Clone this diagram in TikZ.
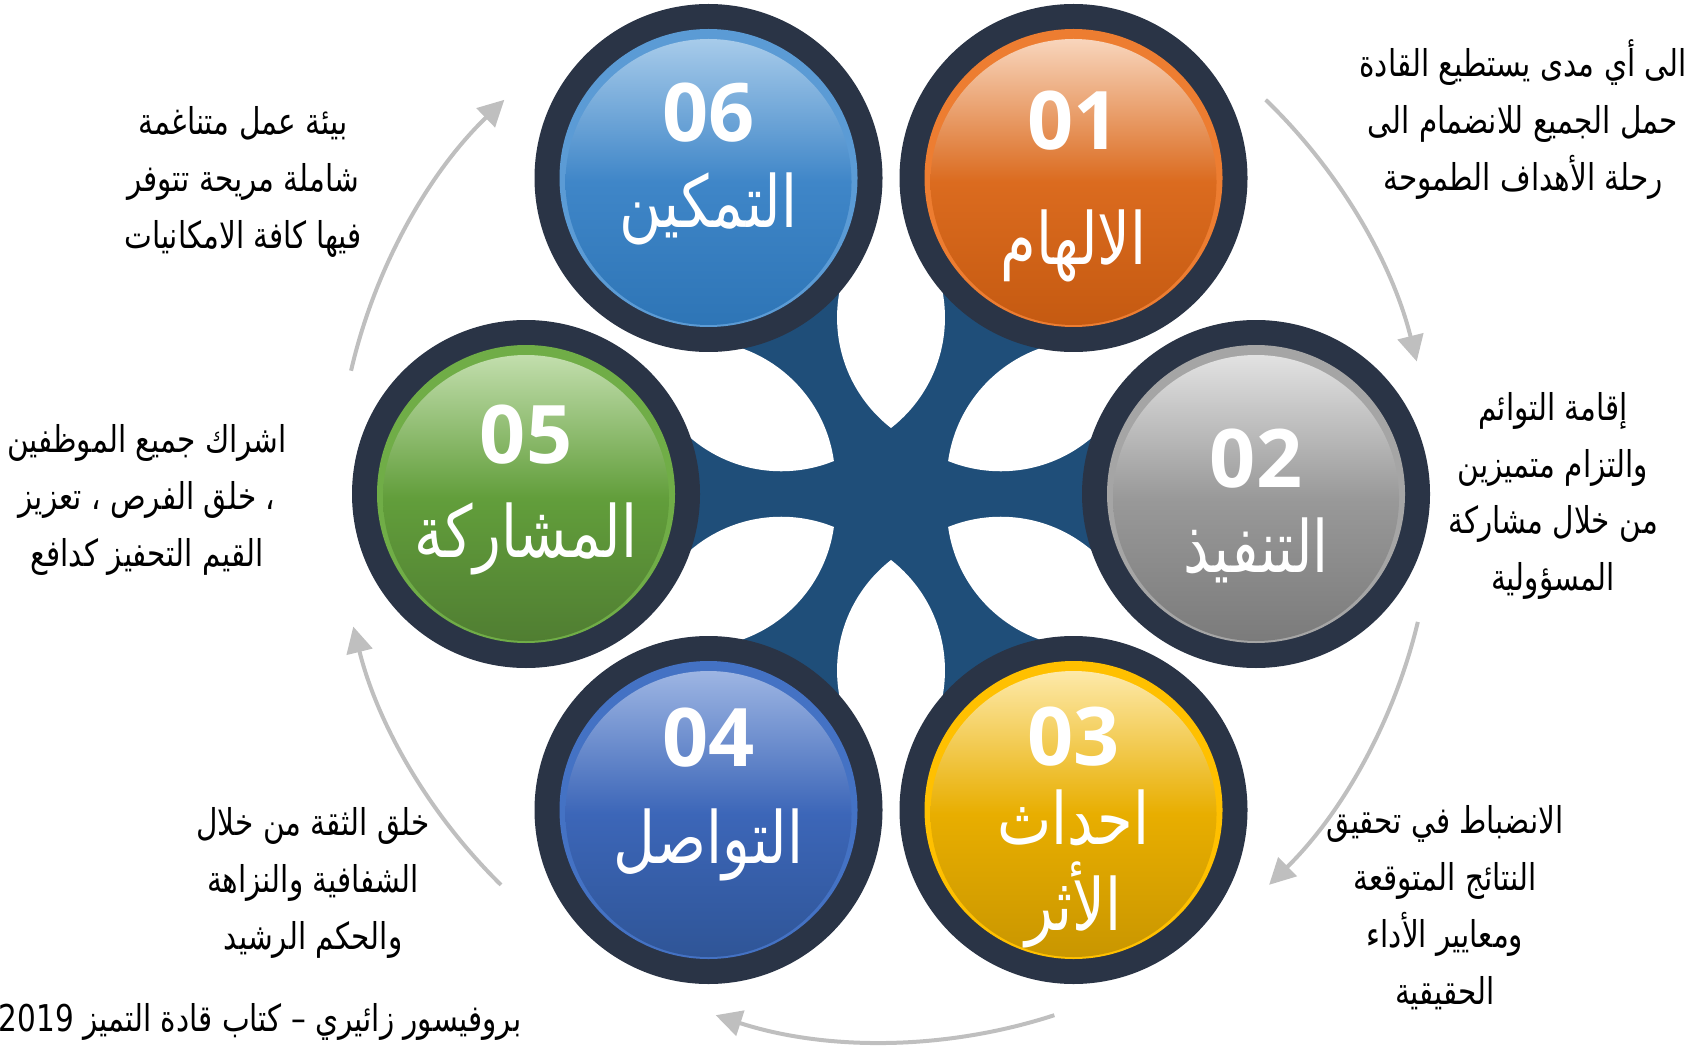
\documentclass[tikz,border=0pt]{standalone}
\usepackage{fontspec}
\usepackage{xcolor}
\usetikzlibrary{arrows.meta}
\TeXXeTstate=1
\newfontfamily\arabicfont[Script=Arabic, FakeStretch=0.8]{DejaVu Sans}
\newfontfamily\numfont{Open Sans}
\newcommand{\artext}[1]{\beginR #1\endR}

\definecolor{hubblue}{HTML}{1F4E79}
\definecolor{ringc}{HTML}{2A3446}
\definecolor{arrowgray}{HTML}{BFBFBF}
\definecolor{oneRim}{HTML}{ED7D31}\definecolor{oneTop}{HTML}{F8D5BC}\definecolor{oneMid}{HTML}{DB6B1F}\definecolor{oneBot}{HTML}{C55A11}
\definecolor{twoRim}{HTML}{A5A5A5}\definecolor{twoTop}{HTML}{E2E2E2}\definecolor{twoMid}{HTML}{999999}\definecolor{twoBot}{HTML}{7B7B7B}
\definecolor{threeRim}{HTML}{FFC000}\definecolor{threeTop}{HTML}{FDE9A9}\definecolor{threeMid}{HTML}{E8AE00}\definecolor{threeBot}{HTML}{C99600}
\definecolor{fourRim}{HTML}{4472C4}\definecolor{fourTop}{HTML}{9DB5E3}\definecolor{fourMid}{HTML}{3C66B8}\definecolor{fourBot}{HTML}{2F5597}
\definecolor{fiveRim}{HTML}{70AD47}\definecolor{fiveTop}{HTML}{C2DEAD}\definecolor{fiveMid}{HTML}{629E3B}\definecolor{fiveBot}{HTML}{507E32}
\definecolor{sixRim}{HTML}{5B9BD5}\definecolor{sixTop}{HTML}{A7CBEA}\definecolor{sixMid}{HTML}{3F86C8}\definecolor{sixBot}{HTML}{2E75B6}

\begin{document}
\begin{tikzpicture}[x=0.1mm, y=0.1mm,
    ring/.style={circle, fill=ringc, minimum size=34.8mm, inner sep=0pt},
    rim/.style={circle, fill=#1, minimum size=29.8mm, inner sep=0pt},
    disc/.style n args={3}{circle, minimum size=28.6mm, inner sep=0pt, top color=#1, bottom color=#3, middle color=#2},
    num/.style={text=white, font=\numfont\bfseries\fontsize{23}{23}\selectfont},
    stagelabel/.style={text=white, align=center, font=\arabicfont\fontsize{20.5}{24.5}\selectfont},
    desc/.style={align=center, font=\arabicfont\fontsize{10.5}{16.2}\selectfont},
    cycle arrow/.style={arrowgray, line width=0.4mm, -{Triangle[length=2.6mm, width=2.6mm]}}]

  \useasboundingbox (0,0) rectangle (1691,1052);

  % hub with the white lenses between the arms
  \coordinate (hub) at (891,558);
  \fill[hubblue] (hub) +(0:30mm) -- +(60:30mm) -- +(120:30mm) -- +(180:30mm) -- +(240:30mm) -- +(300:30mm) -- cycle;
  \foreach \a in {30,90,...,330} {
    \begin{scope}
      \clip (hub) ++(\a+26:19.63mm) circle (14mm);
      \fill[white] (hub) ++(\a-26:19.63mm) circle (14mm);
    \end{scope}
  }

  % stages
  \node[ring] (s1) at (1073.5,874) {};
  \node[ring] (s2) at (1256,558) {};
  \node[ring] (s3) at (1073.5,242) {};
  \node[ring] (s4) at (708.5,242) {};
  \node[ring] (s5) at (526,558) {};
  \node[ring] (s6) at (708.5,874) {};

  \node[rim=oneRim] at (s1) {};
  \node[rim=twoRim] at (s2) {};
  \node[rim=threeRim] at (s3) {};
  \node[rim=fourRim] at (s4) {};
  \node[rim=fiveRim] at (s5) {};
  \node[rim=sixRim] at (s6) {};

  \node[disc={oneTop}{oneMid}{oneBot}] (c1) at ([yshift=-0.4mm]s1) {};
  \node[disc={twoTop}{twoMid}{twoBot}] (c2) at ([yshift=-0.4mm]s2) {};
  \node[disc={threeTop}{threeMid}{threeBot}] (c3) at ([yshift=-0.4mm]s3) {};
  \node[disc={fourTop}{fourMid}{fourBot}] (c4) at ([yshift=-0.4mm]s4) {};
  \node[disc={fiveTop}{fiveMid}{fiveBot}] (c5) at ([yshift=-0.4mm]s5) {};
  \node[disc={sixTop}{sixMid}{sixBot}] (c6) at ([yshift=-0.4mm]s6) {};

  \node[num] (n1) at ([yshift=5.7mm]s1) {01};
  \node[num] (n2) at ([yshift=3.5mm]s2) {02};
  \node[num] (n3) at ([yshift=7.3mm]s3) {03};
  \node[num] (n4) at ([yshift=7.2mm]s4) {04};
  \node[num] (n5) at ([yshift=5.9mm]s5) {05};
  \node[num] (n6) at ([yshift=6.5mm]s6) {06};

  \node[stagelabel] (l1) at ([yshift=-6.8mm]s1) {\artext{الالهام}};
  \node[stagelabel] (l2) at ([yshift=-5.6mm]s2) {\artext{التنفيذ}};
  \node[stagelabel] (l3) at ([yshift=-5.9mm]s3) {\artext{احداث}\\ \artext{الأثر}};
  \node[stagelabel] (l4) at ([yshift=-3.5mm]s4) {\artext{التواصل}};
  \node[stagelabel] (l5) at ([yshift=-4.5mm]s5) {\artext{المشاركة}};
  \node[stagelabel] (l6) at ([yshift=-3.1mm]s6) {\artext{التمكين}};

  % descriptions
  \node[desc] (d1) at (1523,932) {\artext{الى أي مدى يستطيع القادة}\\ \artext{حمل الجميع للانضمام الى}\\ \artext{رحلة الأهداف الطموحة}};
  \node[desc] (d2) at (1553,556) {\artext{إقامة التوائم}\\ \artext{والتزام متميزين}\\ \artext{من خلال مشاركة}\\ \artext{المسؤولية}};
  \node[desc] (d3) at (1445,144) {\artext{الانضباط في تحقيق}\\ \artext{النتائج المتوقعة}\\ \artext{ومعايير الأداء}\\ \artext{الحقيقية}};
  \node[desc] (d4) at (313,169) {\artext{خلق الثقة من خلال}\\ \artext{الشفافية والنزاهة}\\ \artext{والحكم الرشيد}};
  \node[desc] (d5) at (147,552) {\artext{اشراك جميع الموظفين}\\ \artext{، خلق الفرص ، تعزيز}\\ \artext{القيم التحفيز كدافع}};
  \node[desc] (d6) at (243,870) {\artext{بيئة عمل متناغمة}\\ \artext{شاملة مريحة تتوفر}\\ \artext{فيها كافة الامكانيات}};
  \node[desc] (src) at (260,30) {\artext{بروفيسور زائيري – كتاب قادة التميز \beginL 2019\endL}};

  % cycle arrows
  \coordinate (cyc) at (885,558);
  \draw[cycle arrow] (cyc) ++(46:54.8mm) arc[start angle=46, end angle=14, radius=54.8mm];
  \draw[cycle arrow] (cyc) ++(-13.5:54.8mm) arc[start angle=-13.5, end angle=-45.5, radius=54.8mm];
  \draw[cycle arrow] (cyc) ++(-72:54.8mm) arc[start angle=-72, end angle=-108, radius=54.8mm];
  \draw[cycle arrow] (cyc) ++(-134.5:54.8mm) arc[start angle=-134.5, end angle=-166, radius=54.8mm];
  \draw[cycle arrow] (cyc) ++(167:54.8mm) arc[start angle=167, end angle=134, radius=54.8mm];
\end{tikzpicture}
\end{document}
